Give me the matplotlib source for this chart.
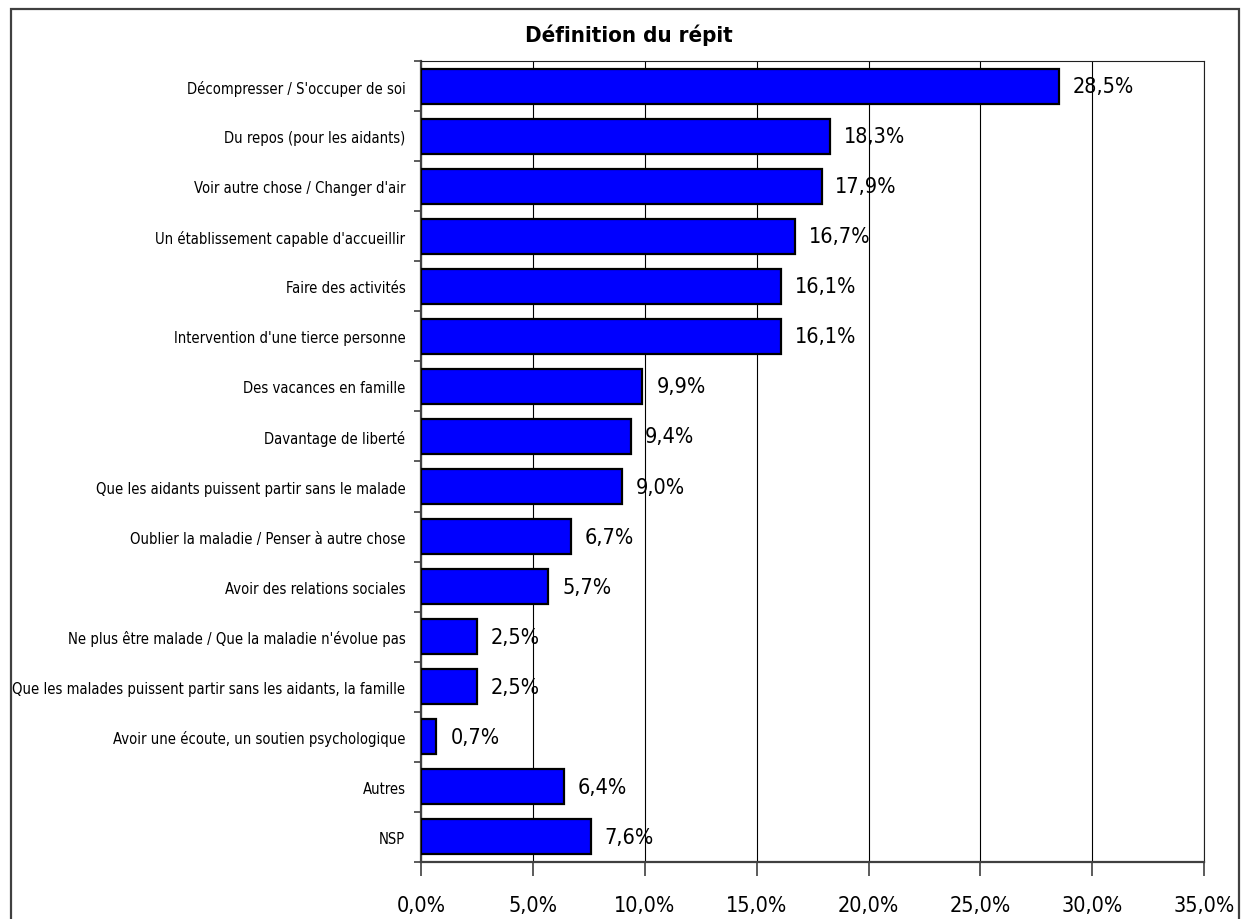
import matplotlib
matplotlib.use("Agg")
import matplotlib.pyplot as plt
from matplotlib import font_manager
from matplotlib.patches import Rectangle
from matplotlib.ticker import FixedLocator, FuncFormatter

categories = [
    "Décompresser / S'occuper de soi",
    "Du repos (pour les aidants)",
    "Voir autre chose / Changer d'air",
    "Un établissement capable d'accueillir",
    "Faire des activités",
    "Intervention d'une tierce personne",
    "Des vacances en famille",
    "Davantage de liberté",
    "Que les aidants puissent partir sans le malade",
    "Oublier la maladie / Penser à autre chose",
    "Avoir des relations sociales",
    "Ne plus être malade / Que la maladie n'évolue pas",
    "Que les malades puissent partir sans les aidants, la famille",
    "Avoir une écoute, un soutien psychologique",
    "Autres",
    "NSP",
]
values = [28.5, 18.3, 17.9, 16.7, 16.1, 16.1, 9.9, 9.4, 9.0, 6.7, 5.7, 2.5, 2.5, 0.7, 6.4, 7.6]
x_ticks = [0, 5, 10, 15, 20, 25, 30, 35]
title = "Définition du répit"

names = {f.name for f in font_manager.fontManager.ttflist}
if "Liberation Sans Narrow" in names:
    FAM = ["Liberation Sans Narrow", "DejaVu Sans"]
    STRETCH = "normal"
else:
    FAM = ["DejaVu Sans"]
    STRETCH = "condensed"
plt.rcParams["font.family"] = FAM
plt.rcParams["font.stretch"] = STRETCH


def pct(v, _=None):
    return f"{v:.1f}%".replace(".", ",")


fig = plt.figure(figsize=(12.43, 9.2), dpi=100)
ax = fig.add_axes([0.3385, 0.0620, 0.9689 - 0.3385, 0.9326 - 0.0620])

n = len(categories)
ypos = list(range(n))
ax.barh(ypos, values, height=0.7, color="#0000FF", edgecolor="black",
        linewidth=1.6, zorder=3)

ax.set_xlim(0, 35)
ax.set_ylim(n - 0.5, -0.5)

ax.xaxis.set_major_locator(FixedLocator(x_ticks))
ax.xaxis.set_major_formatter(FuncFormatter(pct))
ax.grid(axis="x", color="black", linewidth=0.8, zorder=0)
ax.set_axisbelow(True)

ax.set_yticks(ypos)
ax.set_yticklabels(categories, fontsize=10.6)
ax.yaxis.set_minor_locator(FixedLocator([i + 0.5 for i in range(-1, n)]))
ax.tick_params(axis="y", which="major", length=0, pad=11)
ax.tick_params(axis="y", which="minor", length=5, width=1.2, color="#404040")
ax.tick_params(axis="x", which="major", length=10, width=1.2, color="#404040",
               labelsize=15.5, pad=14)

for side in ("top", "right"):
    ax.spines[side].set_linewidth(0.8)
    ax.spines[side].set_color("#202020")
for side in ("left", "bottom"):
    ax.spines[side].set_linewidth(1.6)
    ax.spines[side].set_color("#404040")

for y, v in zip(ypos, values):
    ax.annotate(pct(v), xy=(v, y), xytext=(10, 0), textcoords="offset points",
                ha="left", va="center", fontsize=15.5, zorder=4)

fig.text(0.506, 0.962, title, ha="center", va="center", fontsize=16,
         fontweight="bold")

# outer frame around the chart
fig.patches.append(Rectangle((11 / 1243, -0.05), (1239 - 11) / 1243,
                             (920 - 10) / 920 + 0.05, transform=fig.transFigure,
                             fill=False, edgecolor="#404040", linewidth=1.6,
                             clip_on=False))

fig.savefig("out.png", dpi=100)
